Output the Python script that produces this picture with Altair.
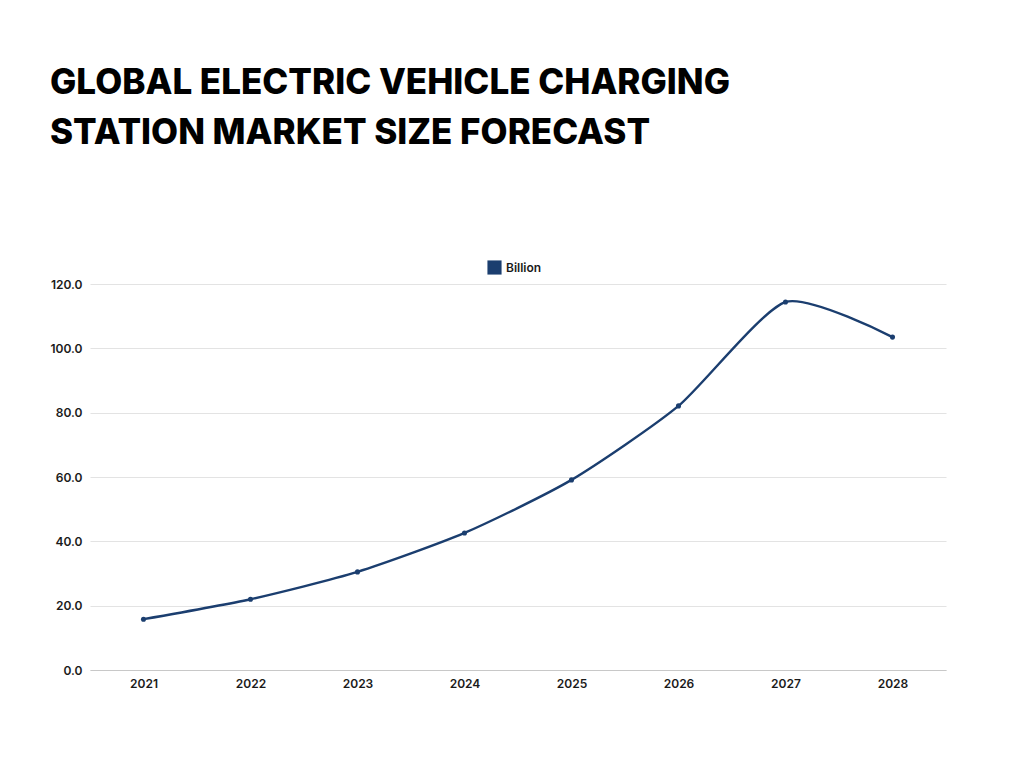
import altair as alt
import pandas as pd

years = ["2021", "2022", "2023", "2024", "2025", "2026", "2027", "2028"]
values = [15.8, 22.0, 30.5, 42.6, 59.1, 82.1, 114.4, 103.5]
series = ["Billion"] * len(years)

df = pd.DataFrame({"year": years, "value": values, "series": series})

NAVY = "#1b3e6f"
FONT = "Inter"

base = alt.Chart(df).encode(
    x=alt.X("year:N", sort=years, title=None,
            scale=alt.Scale(paddingInner=0, paddingOuter=0),
            axis=alt.Axis(labelAngle=0, labelFont=FONT, labelFontWeight=600,
                          labelFontSize=12, labelColor="#1a1a1a", ticks=False,
                          domainColor="#c8c8c8", labelPadding=8, grid=False)),
    y=alt.Y("value:Q", title=None,
            scale=alt.Scale(domain=[0, 120], nice=False),
            axis=alt.Axis(values=[0, 20, 40, 60, 80, 100, 120], format=".1f",
                          labelFont=FONT, labelFontWeight=600, labelFontSize=12,
                          labelColor="#1a1a1a", ticks=False, domain=False,
                          gridColor="#e3e3e3", labelPadding=8)),
    color=alt.Color("series:N", title=None,
                    scale=alt.Scale(domain=["Billion"], range=[NAVY]),
                    legend=alt.Legend(orient="none", legendX=397, legendY=-24,
                                      symbolType="square", symbolSize=200,
                                      symbolStrokeWidth=0,
                                      labelFont=FONT, labelFontWeight=600,
                                      labelFontSize=12, labelColor="#1a1a1a")),
)

line = base.mark_line(interpolate="cardinal", tension=0.35, strokeWidth=2.4)
pts = base.mark_point(filled=True, size=26, opacity=1)

chart = (line + pts).properties(
    width=856, height=386,
    title=alt.Title(
        ["GLOBAL ELECTRIC VEHICLE CHARGING", "STATION MARKET SIZE FORECAST"],
        anchor="start", frame="group", dx=-40, offset=150,
        font=FONT, fontWeight=800, fontSize=35, lineHeight=50,
        color="#000000", baseline="top", dy=41,
    ),
    autosize=alt.AutoSizeParams(type="none"),
    padding={"left": 82, "top": 276, "right": 70, "bottom": 90},
).configure(background="white").configure_view(stroke=None)

chart.save("out.html", embed_options={"renderer": "svg", "actions": False})
